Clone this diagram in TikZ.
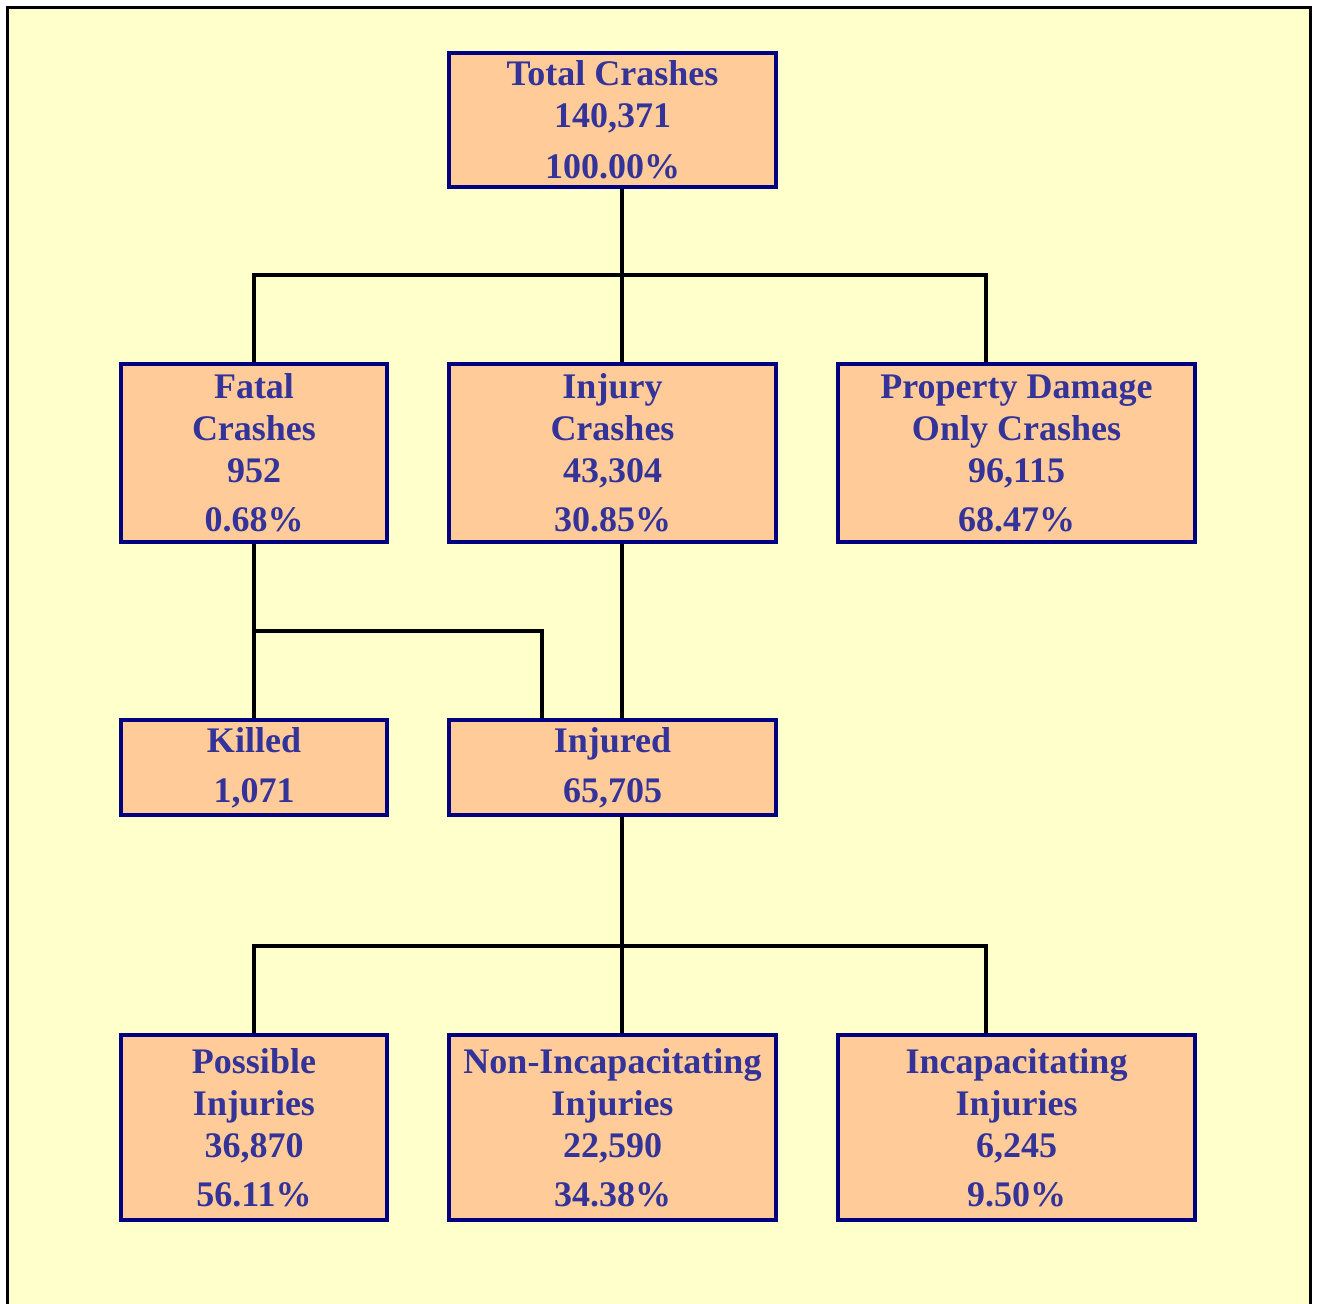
\documentclass[tikz,border=0pt]{standalone}
\usepackage{fontspec}
\setmainfont{Liberation Serif}
\usepackage{tikz}
\usetikzlibrary{calc}
\definecolor{bgyellow}{HTML}{FFFFCC}
\definecolor{boxpeach}{HTML}{FFCC99}
\definecolor{boxnavy}{HTML}{000080}
\definecolor{txtblue}{HTML}{333399}
\tikzset{
	crashbox/.style={rectangle, draw=boxnavy, line width=4.5pt, fill=boxpeach,
		text=txtblue, align=center, inner sep=0pt,
		font=\bfseries\fontsize{36}{42}\selectfont},
	link/.style={line width=4.5pt, color=black}
}

\begin{document}
\begin{tikzpicture}[x=1pt, y=-1pt]
			%%%%% START %%%%%
			
			\useasboundingbox (0, 0) rectangle (1318, 1304);
			\fill[bgyellow] (7.5, 7.5) rectangle (1310.5, 1304);
			\draw[line width=3pt] (7.5, 1304) -- (7.5, 7.5) -- (1310.5, 7.5) -- (1310.5, 1304);
			
			\coordinate (busA) at (622, 275);
			\coordinate (busAr) at (986, 275);
			\coordinate (busB) at (542, 631);
			\coordinate (busC) at (622, 946);
			\coordinate (busCr) at (986, 946);
			
			\node[crashbox, minimum width=327pt, minimum height=134pt] (total) at (612.5, 120) {Total Crashes\\140,371\\[9pt]100.00\%};
			
			\node[crashbox, minimum width=266pt, minimum height=178pt] (fatal) at (254, 453) {Fatal\\Crashes\\952\\[7pt]0.68\%};
			\node[crashbox, minimum width=327pt, minimum height=178pt] (injury) at (612.5, 453) {Injury\\Crashes\\43,304\\[7pt]30.85\%};
			\node[crashbox, minimum width=357pt, minimum height=178pt] (pdo) at (1016.5, 453) {Property Damage\\Only Crashes\\96,115\\[7pt]68.47\%};
			
			\node[crashbox, minimum width=266pt, minimum height=95pt] (killed) at (254, 767.5) {Killed\\[8pt]1,071};
			\node[crashbox, minimum width=327pt, minimum height=95pt] (injured) at (612.5, 767.5) {Injured\\[8pt]65,705};
			
			\node[crashbox, minimum width=266pt, minimum height=185pt] (possible) at (254, 1127.5) {Possible\\Injuries\\36,870\\[7pt]56.11\%};
			\node[crashbox, minimum width=327pt, minimum height=185pt] (nonincap) at (612.5, 1127.5) {Non-Incapacitating\\Injuries\\22,590\\[7pt]34.38\%};
			\node[crashbox, minimum width=357pt, minimum height=185pt] (incap) at (1016.5, 1127.5) {Incapacitating\\Injuries\\6,245\\[7pt]9.50\%};
			
			% connectors
			\draw[link] (total.south -| busA) -- (injury.north -| busA);
			\draw[link] (fatal.north) |- (busAr) -- (pdo.north -| busAr);
			
			\draw[link] (fatal.south) -- (killed.north);
			\draw[link] (fatal.south |- busB) -| (injured.north -| busB);
			\draw[link] (injury.south -| busA) -- (injured.north -| busA);
			
			\draw[link] (injured.south -| busC) -- (nonincap.north -| busC);
			\draw[link] (possible.north) |- (busCr) -- (incap.north -| busCr);
			
			%%%%% END %%%%%
\end{tikzpicture}
\end{document}
